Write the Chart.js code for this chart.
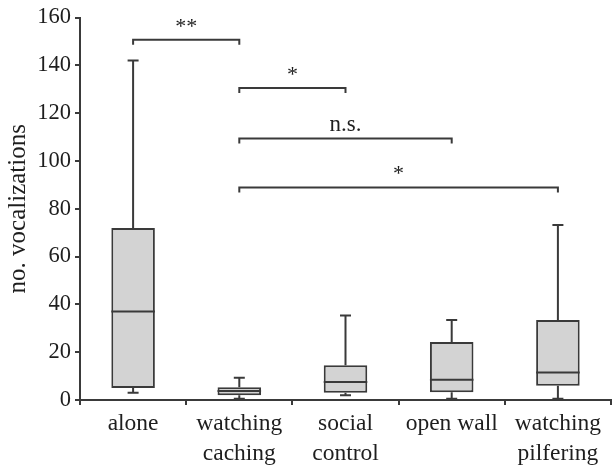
<!DOCTYPE html>
<html>
<head>
<meta charset="utf-8">
<script src="https://cdn.jsdelivr.net/npm/chart.js@4"></script>
<style>
  html, body { margin: 0; padding: 0; background: #fff; }
  #wrap { width: 612px; height: 466px; position: relative; }
</style>
</head>
<body>
<div id="wrap"><canvas id="c"></canvas></div>
<script>
// ---- data ----
const categories = [['alone'], ['watching', 'caching'], ['social', 'control'], ['open wall'], ['watching', 'pilfering']];
const whiskerMin = [3, 0.5, 2, 0.5, 0.5];
const q1Values   = [5, 2, 3, 3.2, 6];
const medians    = [37, 3.8, 7.5, 8.5, 11.5];
const q3Values   = [72, 5.3, 14.5, 24.3, 33.5];
const whiskerMax = [142, 9.3, 35.3, 33.5, 73.2];
const yTicks     = [0, 20, 40, 60, 80, 100, 120, 140, 160];
// brackets: from category index, to category index, height (y value), label
const bracketFrom   = [0, 1, 1, 1];
const bracketTo     = [1, 2, 3, 4];
const bracketY      = [150.7, 130.5, 109.4, 88.9];
const bracketLabels = ['**', '*', 'n.s.', '*'];

const INK = '#3a3a3a';
const TXT = '#1e1e1e';
const FONT = 'Liberation Serif, Times New Roman, serif';

const boxPlugin = {
  id: 'boxParts',
  afterDatasetsDraw(chart) {
    const ctx = chart.ctx;
    const xs = chart.scales.x, ys = chart.scales.y;
    const meta = chart.getDatasetMeta(0);
    ctx.save();
    ctx.strokeStyle = INK;
    ctx.lineWidth = 2;
    meta.data.forEach((bar, i) => {
      const cx = xs.getPixelForValue(i);
      const half = bar.width / 2;
      const capHalf = 5.5;
      const yMin = ys.getPixelForValue(whiskerMin[i]);
      const yQ1 = ys.getPixelForValue(q1Values[i]);
      const yMed = ys.getPixelForValue(medians[i]);
      const yQ3 = ys.getPixelForValue(q3Values[i]);
      const yMax = ys.getPixelForValue(whiskerMax[i]);
      ctx.beginPath();
      ctx.moveTo(cx, yQ3); ctx.lineTo(cx, yMax);
      ctx.moveTo(cx - capHalf, yMax); ctx.lineTo(cx + capHalf, yMax);
      ctx.moveTo(cx, yQ1); ctx.lineTo(cx, yMin);
      ctx.moveTo(cx - capHalf, yMin); ctx.lineTo(cx + capHalf, yMin);
      ctx.moveTo(cx - half, yMed); ctx.lineTo(cx + half, yMed);
      ctx.stroke();
    });
    // significance brackets
    ctx.fillStyle = TXT;
    ctx.textAlign = 'center';
    ctx.textBaseline = 'alphabetic';
    bracketY.forEach((v, k) => {
      const x1 = xs.getPixelForValue(bracketFrom[k]);
      const x2 = xs.getPixelForValue(bracketTo[k]);
      const y = ys.getPixelForValue(v);
      ctx.beginPath();
      ctx.moveTo(x1, y + 5); ctx.lineTo(x1, y); ctx.lineTo(x2, y); ctx.lineTo(x2, y + 5);
      ctx.stroke();
      const lab = bracketLabels[k];
      const isStar = lab.indexOf('*') >= 0;
      ctx.font = (isStar ? '22px ' : '23px ') + FONT;
      ctx.fillText(lab, (x1 + x2) / 2, isStar ? y - 7 : y - 7);
    });
    ctx.restore();
  }
};

new Chart(document.getElementById('c'), {
  type: 'bar',
  data: {
    labels: categories,
    datasets: [{
      data: q1Values.map((q, i) => [q, q3Values[i]]),
      backgroundColor: '#d3d3d3',
      borderColor: INK,
      borderWidth: 2,
      borderSkipped: false,
      categoryPercentage: 1.0,
      barPercentage: 0.41
    }]
  },
  options: {
    responsive: true,
    maintainAspectRatio: false,
    animation: false,
    layout: { padding: { top: 16, right: 1, left: 0, bottom: 0 } },
    plugins: { legend: { display: false }, tooltip: { enabled: false } },
    scales: {
      x: {
        grid: { drawOnChartArea: false, drawTicks: true, tickLength: 5, color: INK, lineWidth: 2, offset: true },
        border: { color: INK, width: 2 },
        ticks: { color: TXT, font: { family: FONT, size: 23.5, lineHeight: 1.28 }, padding: 4, maxRotation: 0, autoSkip: false },
        afterFit(s) { s.height = 66; }
      },
      y: {
        min: 0, max: 160,
        afterBuildTicks(s) { s.ticks = yTicks.map(v => ({ value: v })); },
        grid: { drawOnChartArea: false, drawTicks: true, tickLength: 5, color: INK, lineWidth: 2 },
        border: { color: INK, width: 2 },
        ticks: { color: TXT, font: { family: FONT, size: 22.5 }, padding: 4 },
        title: { display: true, text: 'no. vocalizations', color: TXT, font: { family: FONT, size: 25 }, padding: { top: 3, bottom: 0 } },
        afterFit(s) { s.width = 80; }
      }
    }
  },
  plugins: [boxPlugin]
});
</script>
</body>
</html>
